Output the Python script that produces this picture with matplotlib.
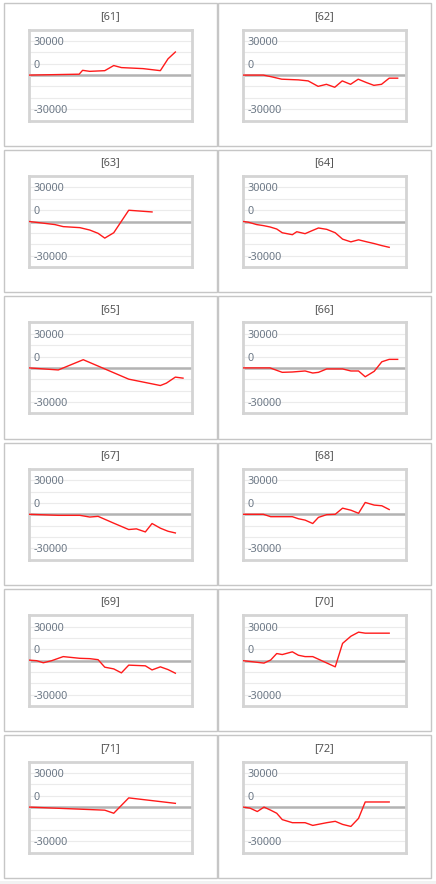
import matplotlib
matplotlib.use("Agg")
import matplotlib.pyplot as plt
from matplotlib.patches import Rectangle
from matplotlib.transforms import blended_transform_factory

# ---- data (x in % of the time axis, y values) ----
titles = ["[61]", "[62]", "[63]", "[64]", "[65]", "[66]",
          "[67]", "[68]", "[69]", "[70]", "[71]", "[72]"]

x61 = [0, 30.6, 32.7, 37.1, 46.3, 51.8, 56.5, 69.8, 80.4, 85.1, 89.6]
y61 = [0, 800, 4200, 3300, 3900, 8400, 6600, 5700, 3900, 14300, 20300]

x62 = [0, 12.3, 17.4, 23.6, 33.8, 39.8, 45.9, 51.0, 56.1, 60.7, 65.8, 70.5, 75.6, 80.1, 84.8, 89.5, 94.7]
y62 = [0, 0, -1500, -3600, -4200, -5100, -9900, -8100, -10700, -5100, -8100, -3600, -6600, -9000, -8100, -2700, -2700]

x63 = [0, 15.7, 20.8, 31.0, 37.1, 42.2, 46.3, 51.8, 61.0, 75.3]
y63 = [0, -2700, -4500, -5400, -7500, -10400, -14600, -9900, 9900, 8400]

x64 = [0, 3.1, 8.2, 12.3, 16.4, 20.5, 23.9, 30.1, 32.8, 37.9, 42.6, 46.1, 51.2, 56.4, 60.9, 66.0, 70.7, 75.8, 80.3, 85.0, 89.5]
y64 = [0, -600, -2700, -3600, -4800, -6600, -9900, -11600, -9000, -10700, -7800, -5700, -6900, -9900, -15500, -17900, -16100, -17900, -19400, -21200, -22700]

x65 = [0, 17.8, 33.1, 61.0, 80.4, 84.1, 89.6, 94.3]
y65 = [0, -1800, 7200, -9900, -15500, -13400, -8100, -9000]

x66 = [0, 16.4, 23.9, 30.1, 37.9, 42.6, 46.1, 51.2, 56.4, 60.9, 66.0, 70.7, 74.8, 80.3, 85.0, 89.5, 94.7]
y66 = [0, 0, -3900, -3600, -2700, -4500, -3900, -900, -900, -900, -2700, -2700, -7800, -3000, 5400, 7500, 7500]

x67 = [0, 17.8, 31.0, 37.1, 42.2, 51.8, 61.0, 65.7, 71.2, 75.3, 80.4, 85.1, 89.6]
y67 = [0, -900, -900, -2400, -1800, -7800, -13400, -12800, -15500, -8100, -12200, -14900, -16400]

x68 = [0, 12.3, 16.8, 30.1, 33.8, 37.9, 42.6, 46.1, 51.2, 56.4, 60.9, 66.0, 70.7, 74.8, 80.3, 85.0, 89.5]
y68 = [0, 0, -2100, -2100, -3900, -5100, -8100, -2700, -300, 0, 5400, 3600, 900, 10400, 8100, 7500, 4200]

x69 = [0, 4.5, 8.6, 13.7, 20.8, 31.0, 37.1, 42.2, 46.3, 51.8, 56.5, 61.0, 71.2, 75.3, 80.4, 85.1, 89.6]
y69 = [500, 0, -1800, 0, 3600, 2100, 1800, 900, -5700, -7200, -10700, -3900, -4500, -8100, -5400, -7800, -11000]

x70 = [0, 12.7, 16.8, 20.5, 23.9, 30.1, 33.8, 37.9, 42.6, 56.4, 60.9, 66.0, 70.7, 74.8, 89.5]
y70 = [0, -2100, 600, 6300, 5400, 7800, 4800, 3600, 3600, -5400, 15200, 21500, 25100, 24200, 24200]

x71 = [0, 46.3, 51.8, 61.0, 89.6]
y71 = [0, -2700, -5400, 8100, 3300]

x72 = [0, 4.1, 8.6, 12.7, 16.8, 20.5, 23.9, 30.1, 37.9, 42.6, 51.2, 56.4, 60.9, 66.0, 70.7, 74.8, 89.5]
y72 = [0, -900, -3900, 0, -2700, -5400, -11000, -13700, -13700, -16100, -13700, -12500, -15200, -17000, -9900, 4500, 4500]

series_x = [x61, x62, x63, x64, x65, x66, x67, x68, x69, x70, x71, x72]
series_y = [y61, y62, y63, y64, y65, y66, y67, y68, y69, y70, y71, y72]

label_values = [30000, 10000, -30000]
label_texts = ["30000", "0", "-30000"]
grid_values = [-30000, -20000, -10000, 10000, 20000, 30000]

# ---- layout (pixels) ----
W, H = 436, 884
fig = plt.figure(figsize=(W / 100, H / 100), dpi=100)
plt.rcParams['font.family'] = ['Noto Sans', 'DejaVu Sans']

def fx(px):
    return px / W

def fy(py):
    return 1 - py / H

# bottom light strip
fig.patches.append(Rectangle((0, 0), 1, fy(880.5), transform=fig.transFigure,
                             facecolor="#f2f2f2", edgecolor="none", zorder=0))

panel_left = [4, 218]
panel_w = 212.5
row_tops = [3.3, 149.7, 296.1, 442.5, 588.9, 735.3]
panel_h = 142.5
plot_off_x = 25.3
plot_w = 163
plot_off_y = 26.3
plot_h = 91

label_color = "#6c7886"
for i in range(12):
    r, c = divmod(i, 2)
    left = panel_left[c]
    top = row_tops[r]
    fig.patches.append(Rectangle((fx(left), fy(top + panel_h)), panel_w / W, panel_h / H,
                                 transform=fig.transFigure, facecolor="white",
                                 edgecolor="#c6c6c6", linewidth=1.0, zorder=1))
    fig.text(fx(left + panel_w / 2), fy(top + 11.7), titles[i], ha="center",
             va="center_baseline", fontsize=7.9, color="#555555", zorder=3)

    ax = fig.add_axes([fx(left + plot_off_x), fy(top + plot_off_y + plot_h),
                       plot_w / W, plot_h / H])
    ax.set_zorder(2)
    ax.set_xlim(0, 100)
    ax.set_ylim(-40000, 40000)
    for g in grid_values:
        ax.axhline(g, color="#ebebeb", linewidth=0.8, zorder=1)
    ax.axhline(0, color="#b3b3b3", linewidth=1.8, zorder=2)
    ax.plot(series_x[i], series_y[i], color="#ff1a1a", linewidth=1.0, zorder=3,
            solid_joinstyle="round")
    trans = blended_transform_factory(ax.transAxes, ax.transData)
    for v, t in zip(label_values, label_texts):
        ax.text(0.025, v, t, transform=trans, ha="left", va="center_baseline",
                fontsize=7.8, color=label_color, zorder=4)
    ax.set_xticks([])
    ax.set_yticks([])
    for s in ax.spines.values():
        s.set_color("#d4d4d4")
        s.set_linewidth(2.0)

fig.savefig("out.png", dpi=100)
